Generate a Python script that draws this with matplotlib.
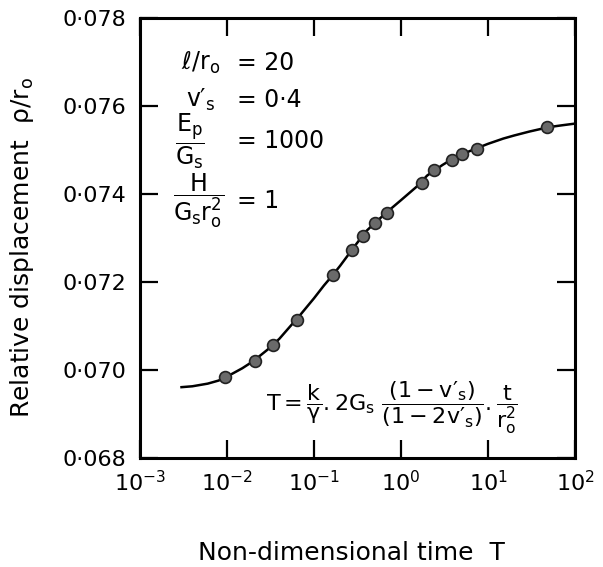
import matplotlib
matplotlib.use("Agg")
import matplotlib.pyplot as plt
from matplotlib.ticker import FixedLocator, FuncFormatter

plt.rcParams['font.family'] = ['DejaVu Sans']
plt.rcParams['mathtext.fontset'] = 'dejavusans'
plt.rcParams['mathtext.default'] = 'regular'

# measured points (T, rho/r0)
point_T = [0.0095, 0.021, 0.034, 0.063, 0.166, 0.275, 0.366, 0.50, 0.69,
           1.74, 2.4, 3.85, 5.0, 7.4, 48]
point_disp = [0.06984, 0.07020, 0.07057, 0.07114, 0.07216, 0.07273, 0.07305,
              0.07334, 0.07357, 0.07425, 0.07455, 0.07477, 0.07490, 0.07502, 0.07552]

# fitted curve
curve_T = [0.003, 0.004, 0.006, 0.008, 0.01, 0.015, 0.02, 0.03, 0.04, 0.05, 0.07,
           0.1, 0.13, 0.16, 0.2, 0.3, 0.4, 0.5, 0.7, 1.0, 1.5, 2.0, 3.0, 4.0,
           5.0, 7.0, 10, 15, 20, 30, 50, 70, 100]
curve_disp = [0.06961, 0.06963, 0.06969, 0.06976, 0.06985, 0.07004, 0.07020,
              0.07048, 0.07071, 0.07093, 0.07126, 0.07163, 0.07192, 0.07213,
              0.07237, 0.07284, 0.07316, 0.07334, 0.07360, 0.07386, 0.07416,
              0.07442, 0.07466, 0.07481, 0.07490, 0.07502, 0.07514, 0.07526,
              0.07533, 0.07542, 0.07552, 0.07556, 0.07560]

x_ticks = [1e-3, 1e-2, 1e-1, 1e0, 1e1, 1e2]
x_tick_labels = [r'$10^{-3}$', r'$10^{-2}$', r'$10^{-1}$', r'$10^{0}$', r'$10^{1}$', r'$10^{2}$']
y_ticks = [0.068, 0.070, 0.072, 0.074, 0.076, 0.078]

fig = plt.figure(figsize=(6.03, 5.67), dpi=100)
ax = fig.add_axes([140/603, 1 - 458/567, 435/603, 440/567])

ax.plot(curve_T, curve_disp, color='black', lw=1.8, zorder=2)
ax.plot(point_T, point_disp, 'o', ms=8.5, mfc='#6a6a6a', mec='#222222', mew=1.2, zorder=3)

ax.set_xscale('log')
ax.set_xlim(1e-3, 1e2)
ax.set_ylim(0.068, 0.078)
ax.xaxis.set_major_locator(FixedLocator(x_ticks))
ax.xaxis.set_minor_locator(FixedLocator([]))
ax.set_xticklabels(x_tick_labels)
ax.yaxis.set_major_locator(FixedLocator(y_ticks))
ax.yaxis.set_major_formatter(FuncFormatter(lambda v, p: f'{v:.3f}'.replace('.', '·')))

ax.tick_params(which='major', direction='in', length=13, width=1.6,
               top=True, right=True, labelsize=16)
ax.tick_params(axis='y', pad=10)
ax.tick_params(axis='x', pad=9)
for s in ax.spines.values():
    s.set_linewidth(2.2)

# axis labels placed in figure pixels
fig.text(351/603, 1 - 553/567, 'Non-dimensional time  T', fontsize=18,
         ha='center', va='center')
fig.text(22/603, 1 - 248/567, r'Relative displacement  $\rho/r_o$', fontsize=18,
         ha='center', va='center', rotation=90)

P = '\u2032'  # prime
fs = 17
eq_x = 0.222
ax.text(0.095, 0.898, r'$\ell/r_o$', transform=ax.transAxes, fontsize=fs, va='center')
ax.text(eq_x, 0.898, '= 20', transform=ax.transAxes, fontsize=fs, va='center')
ax.text(0.105, 0.814, 'v' + P + '$_s$', transform=ax.transAxes, fontsize=fs, va='center')
ax.text(eq_x, 0.814, '= 0·4', transform=ax.transAxes, fontsize=fs, va='center')
ax.text(0.08, 0.72, r'$\dfrac{E_p}{G_s}$', transform=ax.transAxes, fontsize=fs, va='center')
ax.text(eq_x, 0.72, '= 1000', transform=ax.transAxes, fontsize=fs, va='center')
ax.text(0.075, 0.585, r'$\dfrac{H}{G_s r_o^2}$', transform=ax.transAxes, fontsize=fs, va='center')
ax.text(eq_x, 0.585, '= 1', transform=ax.transAxes, fontsize=fs, va='center')

formula = (r'$T = \dfrac{k}{\gamma} . 2G_s\ \dfrac{(1-v' + P + r'_s)}{(1-2v' + P
           + r'_s)} . \dfrac{t}{r_o^2}$')
ax.text(0.29, 0.114, formula, transform=ax.transAxes, fontsize=16, va='center')

fig.savefig('out.png', dpi=100)
